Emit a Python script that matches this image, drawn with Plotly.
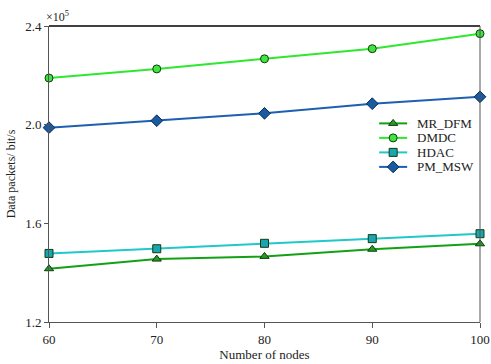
import plotly.graph_objects as go

nodes = [60, 70, 80, 90, 100]
mr_dfm = [1.416, 1.455, 1.466, 1.495, 1.517]
dmdc = [2.189, 2.226, 2.267, 2.308, 2.369]
hdac = [1.478, 1.497, 1.519, 1.538, 1.558]
pm_msw = [1.988, 2.016, 2.046, 2.085, 2.113]
y_ticks = [1.2, 1.6, 2.0, 2.4]
x_ticks = [60, 70, 80, 90, 100]

series = [
    ("MR_DFM", mr_dfm, "#14a014", "#1f9e1f", "triangle-up", 8),
    ("DMDC", dmdc, "#2ee82e", "#3fe43f", "circle", 8),
    ("HDAC", hdac, "#20c8c8", "#1aa6b0", "square", 8),
    ("PM_MSW", pm_msw, "#1f5fb0", "#1a5aa0", "diamond", 9),
]

fam = "Times New Roman, Liberation Serif, DejaVu Serif, serif"

fig = go.Figure()
for name, vals, lc, mc, sym, sz in series:
    edge = "#123a12" if name != "PM_MSW" else "#0b2a55"
    fig.add_trace(go.Scatter(
        x=nodes, y=vals, name=name, mode="lines+markers",
        line=dict(color=lc, width=2),
        marker=dict(symbol=sym, size=sz, color=mc, line=dict(color=edge, width=1)),
        cliponaxis=False, showlegend=False,
    ))

# custom legend (tighter row spacing, as in the reference)
leg_x0, leg_x1, leg_txt = 0.766, 0.831, 0.849
leg_top, leg_step = 0.671, 0.049
annotations = []
for i, (name, vals, lc, mc, sym, sz) in enumerate(series):
    edge = "#123a12" if name != "PM_MSW" else "#0b2a55"
    yy = leg_top - i * leg_step
    fig.add_trace(go.Scatter(
        x=[leg_x0, leg_x1], y=[yy, yy], mode="lines", xaxis="x2", yaxis="y2",
        line=dict(color=lc, width=2), showlegend=False, hoverinfo="skip"))
    fig.add_trace(go.Scatter(
        x=[(leg_x0 + leg_x1) / 2], y=[yy], mode="markers", xaxis="x2", yaxis="y2",
        marker=dict(symbol=sym, size=sz, color=mc, line=dict(color=edge, width=1)),
        showlegend=False, hoverinfo="skip"))
    annotations.append(dict(text=name, xref="paper", yref="paper", x=leg_txt, y=yy,
                            xanchor="left", yanchor="middle", showarrow=False,
                            font=dict(size=13, family=fam, color="#222")))

annotations.append(dict(text="×10<sup>5</sup>", xref="paper", yref="paper", x=-0.012, y=1.0,
                        xanchor="left", yanchor="bottom", showarrow=False,
                        font=dict(size=12, family=fam, color="#222")))

fig.update_layout(
    width=491, height=364,
    margin=dict(l=49, r=11, t=26, b=42, autoexpand=False),
    paper_bgcolor="white", plot_bgcolor="white",
    font=dict(family=fam, size=13, color="#222"),
    showlegend=False,
    xaxis=dict(range=[60, 100], tickvals=x_ticks, ticks="outside", ticklen=5,
               tickcolor="#555", showline=True, linecolor="#555", linewidth=1,
               mirror=False, showgrid=False, zeroline=False, automargin=False,
               title=dict(text="Number of nodes", standoff=2, font=dict(size=13, family=fam)),
               tickfont=dict(size=13, family=fam)),
    yaxis=dict(range=[1.2, 2.4], tickvals=y_ticks, ticktext=["1.2", "1.6", "2.0", "2.4"],
               ticks="outside", ticklen=4, tickcolor="#555", automargin=False,
               showline=True, linecolor="#555", linewidth=1, showgrid=False, zeroline=False,
               title=dict(text="Data packets/ bit/s", standoff=6, font=dict(size=12, family=fam)),
               tickfont=dict(size=13, family=fam)),
    xaxis2=dict(range=[0, 1], overlaying="x", visible=False, fixedrange=True),
    yaxis2=dict(range=[0, 1], overlaying="y", visible=False, fixedrange=True),
    shapes=[
        dict(type="line", xref="paper", yref="paper", x0=0, x1=1, y0=1, y1=1,
             line=dict(color="black", width=1.5)),
        dict(type="line", xref="paper", yref="paper", x0=1, x1=1, y0=0, y1=1,
             line=dict(color="#555", width=1)),
    ],
    annotations=annotations,
)

fig.write_html("out.html")
